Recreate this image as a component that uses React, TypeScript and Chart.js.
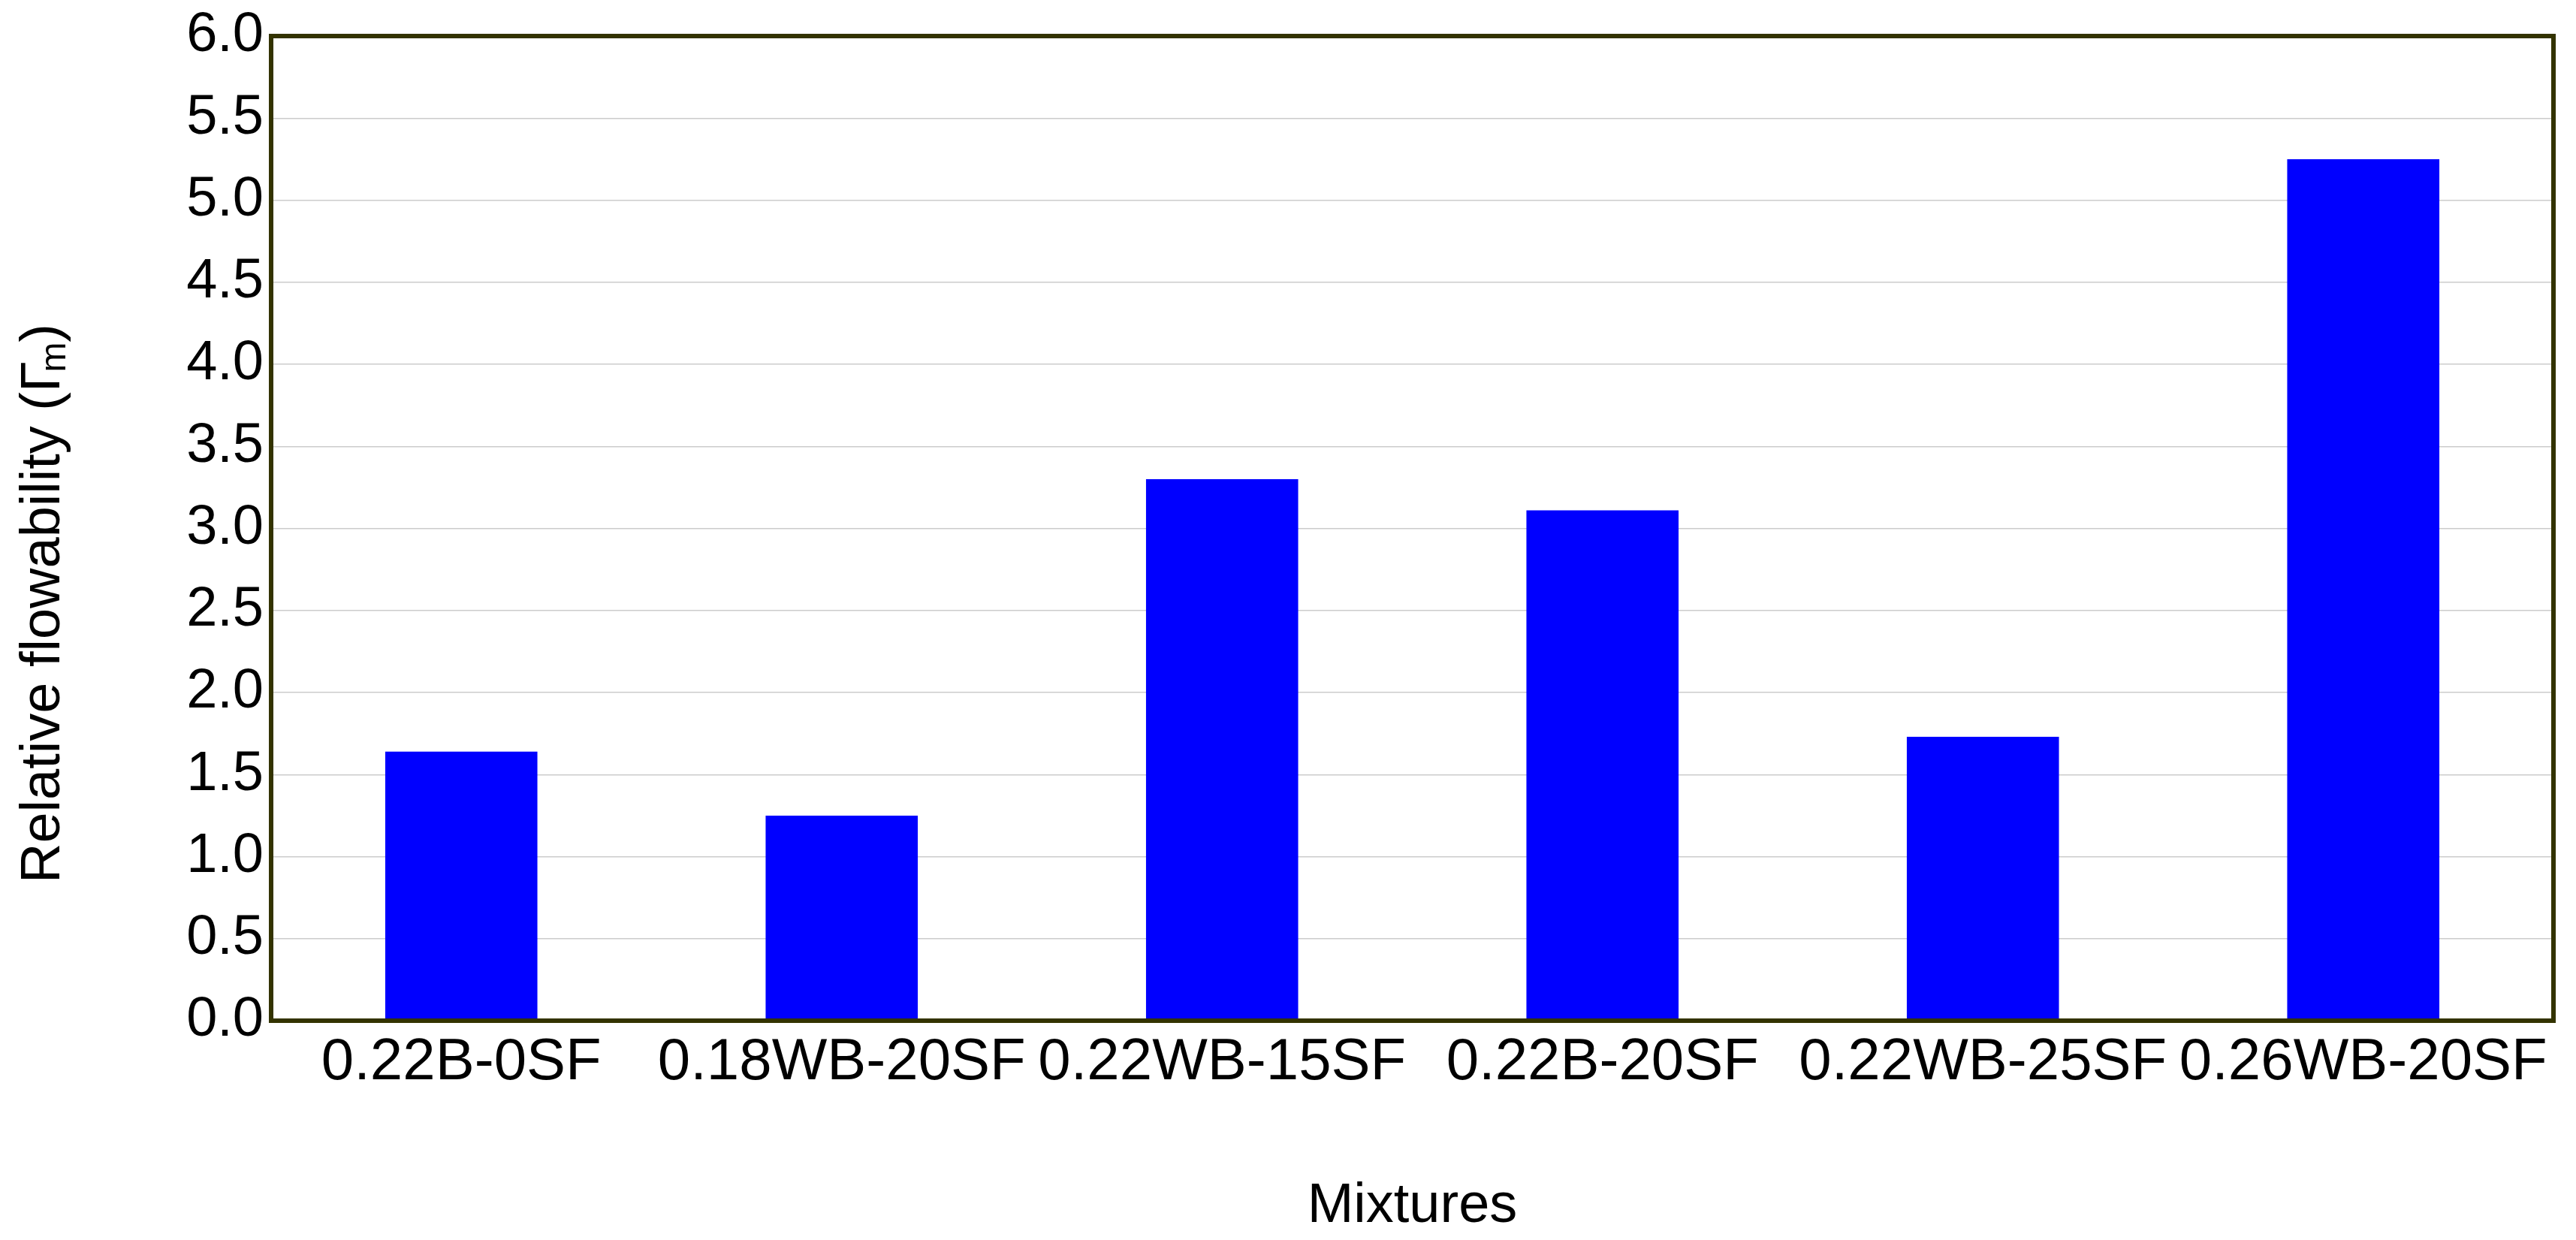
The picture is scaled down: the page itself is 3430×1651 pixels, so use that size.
import React, { useEffect, useRef } from 'react';
import { Chart, registerables } from 'chart.js';

Chart.register(...registerables);

// ---- data ----
const categories: string[] = [
  '0.22B-0SF',
  '0.18WB-20SF',
  '0.22WB-15SF',
  '0.22B-20SF',
  '0.22WB-25SF',
  '0.26WB-20SF',
];
const flowability: number[] = [1.64, 1.25, 3.3, 3.11, 1.73, 5.25];
const yMin = 0;
const yMax = 6;
const yStep = 0.5;
const xTitle = 'Mixtures';
const yTitleMain = 'Relative flowability (';
const yTitleSymbol = 'Γ';
const yTitleSub = 'm';
const yTitleEnd = ')';

const FONT = '"Liberation Sans", Arial, Helvetica, sans-serif';
const W = 3430;
const H = 1651;

const framePlugin = {
  id: 'frameBox',
  afterDraw(chart: any) {
    const { ctx, chartArea } = chart;
    const { left, top, right, bottom } = chartArea;
    ctx.save();
    ctx.strokeStyle = '#333300';
    ctx.lineWidth = 6;
    ctx.strokeRect(left, top, right - left, bottom - top);
    ctx.restore();
  },
};

const yTitlePlugin = {
  id: 'yTitleRich',
  afterDraw(chart: any) {
    const { ctx, chartArea } = chart;
    const big = `74px ${FONT}`;
    const small = `48px ${FONT}`;
    ctx.save();
    const cy = (chartArea.top + chartArea.bottom) / 2 + 100;
    ctx.translate(52, cy);
    ctx.rotate(-Math.PI / 2);
    ctx.fillStyle = '#000';
    ctx.textBaseline = 'alphabetic';
    ctx.textAlign = 'left';
    ctx.font = big;
    const wMain = ctx.measureText(yTitleMain).width;
    const wSym = ctx.measureText(yTitleSymbol).width;
    const wEnd = ctx.measureText(yTitleEnd).width;
    ctx.font = small;
    const wSub = ctx.measureText(yTitleSub).width;
    const subShift = -wSym * 0.35;
    const total = wMain + wSym + subShift + wSub + wEnd;
    let x = -total / 2;
    const base = 27;
    ctx.font = big;
    ctx.fillText(yTitleMain, x, base);
    x += wMain;
    ctx.fillText(yTitleSymbol, x, base);
    x += wSym + subShift;
    ctx.font = small;
    ctx.fillText(yTitleSub, x, base + 8);
    x += wSub;
    ctx.font = big;
    ctx.fillText(yTitleEnd, x, base);
    ctx.restore();
  },
};

export default function App() {
  const canvasRef = useRef<HTMLCanvasElement | null>(null);

  useEffect(() => {
    const canvas = canvasRef.current;
    if (!canvas) return;
    const chart = new Chart(canvas, {
      type: 'bar',
      data: {
        labels: categories,
        datasets: [
          {
            data: flowability,
            backgroundColor: '#0000ff',
            borderWidth: 0,
            barPercentage: 0.4,
            categoryPercentage: 1.0,
          },
        ],
      },
      options: {
        animation: false,
        responsive: false,
        maintainAspectRatio: false,
        devicePixelRatio: 1,
        layout: { padding: { left: 0, top: 48, right: 30, bottom: 0 } },
        plugins: {
          legend: { display: false },
          tooltip: { enabled: false },
          title: { display: false },
        },
        scales: {
          x: {
            grid: { display: false, drawTicks: false },
            border: { display: false },
            ticks: {
              color: '#000',
              font: { family: FONT, size: 78 },
              padding: 10,
              maxRotation: 0,
              minRotation: 0,
              autoSkip: false,
            },
            title: {
              display: true,
              text: xTitle,
              color: '#000',
              font: { family: FONT, size: 74 },
              padding: 0,
            },
            afterFit(scale: any) {
              scale.height = 292;
              scale.paddingLeft = 0;
              scale.paddingRight = 0;
            },
          },
          y: {
            min: yMin,
            max: yMax,
            grid: { color: '#cccccc', lineWidth: 1.5, drawTicks: false },
            border: { display: false },
            ticks: {
              stepSize: yStep,
              color: '#000',
              font: { family: FONT, size: 74 },
              padding: 10,
              callback: (v: any) => Number(v).toFixed(1),
            },
            afterFit(scale: any) {
              scale.width = 361;
              scale.paddingTop = 0;
              scale.paddingBottom = 0;
            },
          },
        },
      },
      plugins: [framePlugin, yTitlePlugin],
    });
    return () => chart.destroy();
  }, []);

  return (
    <div style={{ position: 'absolute', left: 0, top: 0, width: W, height: H, background: '#fff' }}>
      <canvas ref={canvasRef} width={W} height={H} style={{ width: W, height: H, display: 'block' }} />
    </div>
  );
}
